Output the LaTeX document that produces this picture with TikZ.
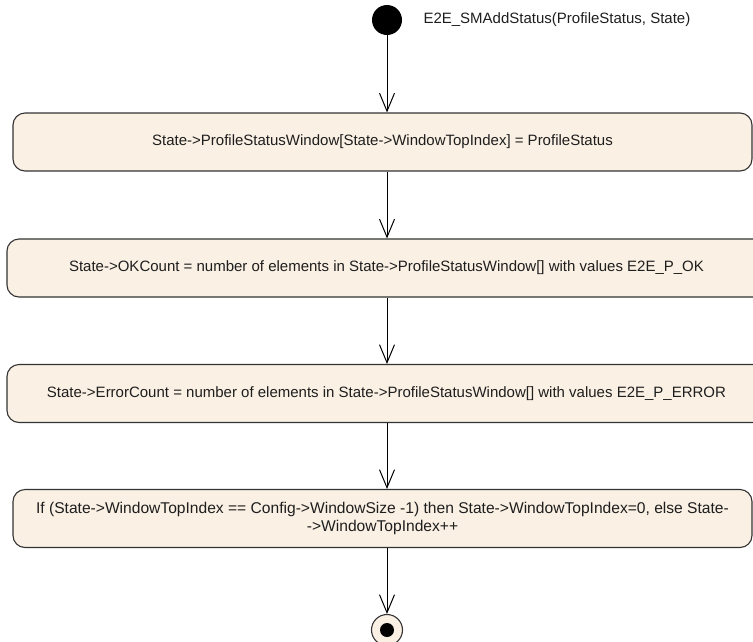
\documentclass[tikz,border=0pt]{standalone}
\usepackage{fontspec}
\setmainfont{Liberation Sans}
\usepackage{tikz}
\usetikzlibrary{
  positioning,
  arrows.meta
}
\definecolor{actfill}{HTML}{FAF0E4}
\definecolor{actline}{HTML}{333333}
\definecolor{ink}{HTML}{1E1E1E}

\begin{document}
\begin{tikzpicture}[
  x=1pt, y=-1pt,
  act/.style={draw=actline, line width=1.1pt, rounded corners=12pt, fill=actfill,
              minimum height=58pt, text=ink, font=\fontsize{15}{18}\selectfont,
              align=center, inner sep=0pt},
  arr/.style={-{Straight Barb[length=18pt, width=15pt]}, line width=1pt, black}
]
  \useasboundingbox (0,0) rectangle (753,641);

  % start and signature
  \node[circle, fill=black, minimum size=30pt, inner sep=0pt] (start) at (387,20) {};
  \node[anchor=west, text=ink, font=\fontsize{15}{18}\selectfont] (sig) at (420,20)
    {E2E\_SMAddStatus(ProfileStatus, State)};

  % actions
  \node[act, minimum width=739pt] (store) at (382.5,142)
    {State->ProfileStatusWindow[State->WindowTopIndex] = ProfileStatus};
  \node[act, minimum width=759pt] (okcnt) at (386.5,268)
    {State->OKCount = number of elements in State->ProfileStatusWindow[] with values E2E\_P\_OK};
  \node[act, minimum width=759pt] (errcnt) at (386.5,393.5)
    {State->ErrorCount = number of elements in State->ProfileStatusWindow[] with values E2E\_P\_ERROR};
  \node[act, minimum width=739pt, font=\fontsize{15.6}{18}\selectfont] (wrap) at (382.5,518.5)
    {If (State->WindowTopIndex == Config->WindowSize -1) then State->WindowTopIndex=0, else State-\\->WindowTopIndex++};

  % final node
  \node[circle, draw=actline, line width=1.1pt, fill=actfill, minimum size=31pt, inner sep=0pt,
        path picture={\fill[black] (path picture bounding box.center) circle (7pt);}]
    (stop) at (387,630) {};

  \draw[arr] (start) -- (start |- store.north);
  \draw[arr] (start |- store.south) -- (start |- okcnt.north);
  \draw[arr] (start |- okcnt.south) -- (start |- errcnt.north);
  \draw[arr] (start |- errcnt.south) -- (start |- wrap.north);
  \draw[arr] (start |- wrap.south) -- (stop);
\end{tikzpicture}
\end{document}
